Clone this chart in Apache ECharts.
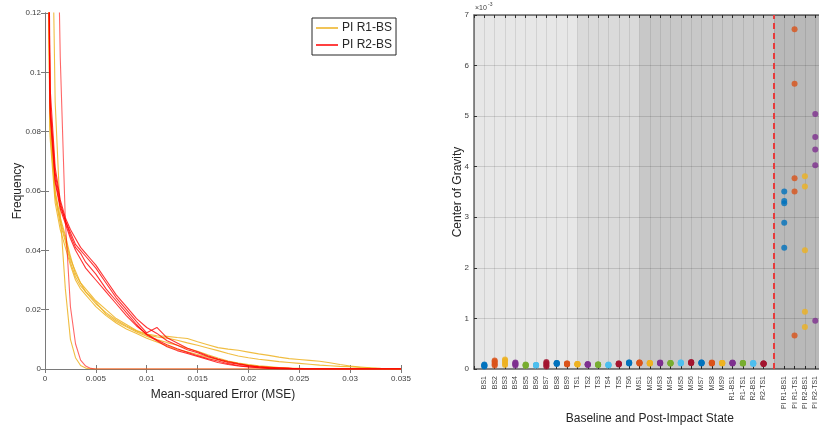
<!DOCTYPE html>
<html><head><meta charset="utf-8">
<script src="https://cdn.jsdelivr.net/npm/echarts@6/dist/echarts.min.js"></script>
<style>html,body{margin:0;padding:0;background:#fff}#c{width:819px;height:427px}</style>
</head><body><div id="c"></div>
<script>
// ---------- Left chart: MSE frequency curves ----------
const mseGrid = [0,0.0005,0.001,0.0015,0.002,0.0025,0.003,0.0035,0.004,0.0045,0.005,0.006,0.007,0.008,0.009,0.010,0.011,0.012,0.013,0.014,0.015,0.016,0.017,0.018,0.019,0.020,0.021,0.022,0.023,0.024,0.025,0.026,0.027,0.028,0.029,0.030,0.031,0.032,0.033,0.034,0.035];

// PI R1-BS (yellow)
const r1Curve0 = [0.30,0.20,0.09,0.052,0.027,0.010,0.0038,0.0012,0.0003,0,0,0,0,0,0,0,0,0,0,0,0,0,0,0,0,0,0,0,0,0,0,0,0,0,0,0,0,0,0,0,0];
const r1Curve1 = [0.26,0.085,0.060,0.051,0.045,0.038,0.032,0.029,0.027,0.025,0.023,0.020,0.017,0.015,0.013,0.0118,0.0112,0.0110,0.0106,0.0103,0.0092,0.0082,0.0072,0.0067,0.0063,0.0057,0.0051,0.0046,0.0040,0.0035,0.0032,0.0029,0.0026,0.0021,0.0015,0.0010,0.0007,0.0004,0.0002,0.0001,0];
const r1Curve2 = [0.24,0.080,0.058,0.049,0.043,0.036,0.031,0.028,0.026,0.024,0.022,0.019,0.0165,0.0145,0.0128,0.0115,0.0108,0.0104,0.0097,0.0088,0.0080,0.0071,0.0062,0.0052,0.0044,0.0038,0.0033,0.0029,0.0025,0.0022,0.0019,0.0016,0.0013,0.0011,0.0009,0.0008,0.0005,0.0003,0.0001,0,0];
const r1Curve3 = [0.22,0.078,0.056,0.047,0.041,0.035,0.030,0.027,0.025,0.023,0.021,0.018,0.0155,0.0135,0.012,0.0104,0.0091,0.0078,0.0066,0.0058,0.0049,0.0040,0.0031,0.0024,0.0018,0.0013,0.0009,0.0006,0.0004,0.0002,0,0,0,0,0,0,0,0,0,0,0];
const r1Curve4 = [0.25,0.082,0.059,0.050,0.044,0.037,0.033,0.029,0.026,0.0245,0.0225,0.0185,0.016,0.0142,0.0125,0.0110,0.0099,0.0089,0.0080,0.0070,0.0060,0.0048,0.0037,0.0027,0.0020,0.0015,0.0011,0.0008,0.0005,0.0003,0.0002,0.0001,0,0,0,0,0,0,0,0,0];

// PI R2-BS (red)
const r2Curve0 = [0.60,0.40,0.20,0.105,0.050,0.021,0.0085,0.003,0.001,0.0002,0,0,0,0,0,0,0,0,0,0,0,0,0,0,0,0,0,0,0,0,0,0,0,0,0,0,0,0,0,0,0];
const r2Curve1 = [0.30,0.095,0.068,0.057,0.051,0.047,0.044,0.041,0.039,0.037,0.035,0.030,0.025,0.021,0.017,0.014,0.012,0.0095,0.008,0.0065,0.0055,0.0042,0.0032,0.0022,0.0016,0.0011,0.0007,0.0004,0.0003,0.0002,0.0001,0,0,0,0,0,0,0,0,0,0];
const r2Curve2 = [0.28,0.090,0.066,0.056,0.050,0.046,0.042,0.040,0.038,0.036,0.034,0.029,0.024,0.020,0.016,0.0122,0.0140,0.0105,0.0088,0.0070,0.0058,0.0045,0.0034,0.0025,0.0018,0.0012,0.0008,0.0006,0.0004,0.0002,0,0,0,0,0,0,0,0,0,0,0];
const r2Curve3 = [0.26,0.086,0.063,0.054,0.049,0.044,0.040,0.037,0.034,0.032,0.030,0.026,0.022,0.018,0.0145,0.0118,0.0098,0.0082,0.0068,0.0056,0.0045,0.0035,0.0027,0.0018,0.0012,0.0008,0.0005,0.0003,0.0001,0,0,0,0,0,0,0,0,0,0,0,0];
const r2Curve4 = [0.27,0.088,0.064,0.055,0.050,0.045,0.041,0.039,0.036,0.034,0.032,0.027,0.023,0.019,0.015,0.0115,0.0095,0.0075,0.0062,0.0052,0.0042,0.0032,0.0022,0.0015,0.0010,0.0007,0.0004,0.0002,0.0001,0,0,0,0,0,0,0,0,0,0,0,0];

const r1Curves = [r1Curve0, r1Curve1, r1Curve2, r1Curve3, r1Curve4];
const r2Curves = [r2Curve0, r2Curve1, r2Curve2, r2Curve3, r2Curve4];

// ---------- Right chart: center of gravity (x 10^-3) ----------
const stateLabels = ['BS1','BS2','BS3','BS4','BS5','BS6','BS7','BS8','BS9','TS1','TS2','TS3','TS4','TS5','TS6','MS1','MS2','MS3','MS4','MS5','MS6','MS7','MS8','MS9','R1-BS1','R1-TS1','R2-BS1','R2-TS1','','PI R1-BS1','PI R1-TS1','PI R2-BS1','PI R2-TS1'];
const cogValues = [
  [0.05,0.06,0.07,0.08,0.09],
  [0.07,0.09,0.12,0.15,0.17],
  [0.08,0.10,0.14,0.17,0.19],
  [0.07,0.09,0.10,0.12,0.13],
  [0.06,0.07,0.08,0.08,0.09],
  [0.07,0.07,0.08,0.08,0.08],
  [0.05,0.07,0.10,0.12,0.14],
  [0.10,0.11,0.11,0.12,0.12],
  [0.09,0.10,0.10,0.11,0.11],
  [0.09,0.09,0.10,0.10,0.10],
  [0.08,0.09,0.09,0.09,0.10],
  [0.08,0.08,0.09,0.09,0.09],
  [0.07,0.08,0.08,0.08,0.09],
  [0.09,0.10,0.10,0.11,0.11],
  [0.11,0.12,0.12,0.13,0.13],
  [0.11,0.12,0.12,0.13,0.13],
  [0.11,0.11,0.12,0.12,0.12],
  [0.11,0.12,0.12,0.12,0.13],
  [0.11,0.11,0.12,0.12,0.12],
  [0.11,0.12,0.12,0.13,0.13],
  [0.12,0.12,0.13,0.13,0.14],
  [0.11,0.12,0.12,0.13,0.13],
  [0.11,0.12,0.12,0.12,0.13],
  [0.11,0.12,0.12,0.12,0.12],
  [0.11,0.12,0.12,0.12,0.13],
  [0.11,0.11,0.12,0.12,0.12],
  [0.10,0.11,0.11,0.12,0.12],
  [0.10,0.10,0.11,0.11,0.11],
  [],
  [3.51,3.32,3.28,2.89,2.40],
  [6.72,5.64,3.77,3.51,0.66],
  [3.81,3.61,2.35,1.13,0.83],
  [5.04,4.59,4.34,4.03,0.955]
];
const stateBands = [[0,10],[10,16],[16,29],[29,34]];
const impactLine = 29;

const matlabColors = ['#0072BD','#D95319','#EDB120','#7E2F8E','#77AC30','#4DBEEE','#A2142F'];
const bandColors = ['rgba(0,0,0,0.095)','rgba(0,0,0,0.145)','rgba(0,0,0,0.215)','rgba(0,0,0,0.275)'];

const axisCol = '#7a7a7a';
const txtCol = '#404040';

const series = [];
r1Curves.forEach(c => series.push({
  type:'line', name:'PI R1-BS', xAxisIndex:0, yAxisIndex:0, symbol:'none', silent:true,
  data: mseGrid.map((x,i)=>[x,c[i]]), color:'#EDB120',
  lineStyle:{width:1.1, color:'#EDB120', opacity:0.85}
}));
r2Curves.forEach((c,k) => series.push({
  type:'line', name:'PI R2-BS', xAxisIndex:0, yAxisIndex:0, symbol:'none', silent:true,
  data: mseGrid.map((x,i)=>[x,c[i]]), color:'#FF0000',
  lineStyle:{width:1.1, color:'#FF0000', opacity: k===0 ? 0.6 : 0.8}
}));

// shading + dashed impact line
series.push({
  type:'line', xAxisIndex:2, yAxisIndex:2, data:[], silent:true, z:1,
  markArea:{silent:true, data: stateBands.map((b,i)=>[{xAxis:b[0], yAxis:0, itemStyle:{color:bandColors[i]}},{xAxis:b[1], yAxis:7}])},
  markLine:{silent:true, symbol:'none', label:{show:false},
    lineStyle:{color:'#e83a3a', type:[6,4], width:2}, data:[{xAxis:impactLine}]}
});

let ci = 0;
stateLabels.forEach((lab,i) => {
  if (!lab) return;
  const col = matlabColors[ci % 7]; ci++;
  series.push({
    type:'scatter', xAxisIndex:2, yAxisIndex:2, symbolSize:6, silent:true, z:3,
    itemStyle:{color:col},
    data: cogValues[i].map(v=>[i+1, v])
  });
});

const option = {
  animation:false,
  backgroundColor:'#fff',
  textStyle:{fontFamily:'Liberation Sans, Arial, sans-serif'},
  grid:[
    {left:45, top:13, width:356, height:356, outerBoundsMode:'none'},
    {left:474, top:15, width:351.6, height:354, outerBoundsMode:'none'}
  ],
  legend:{
    left:312, top:18, orient:'vertical', data:['PI R1-BS','PI R2-BS'],
    icon:'rect', itemWidth:22, itemHeight:1.5, itemGap:5,
    padding:[4,4,4,4], borderColor:'#262626', borderWidth:1, backgroundColor:'#fff',
    textStyle:{fontSize:12, color:'#262626', padding:[0,0,0,-1]}
  },
  xAxis:[
    {gridIndex:0, type:'value', min:0, max:0.035, interval:0.005, position:'bottom',
     axisLine:{lineStyle:{color:axisCol}}, axisTick:{inside:true, length:4, lineStyle:{color:axisCol}},
     axisLabel:{fontSize:8, color:txtCol, margin:6, formatter:v=>String(+v.toFixed(3))},
     splitLine:{show:false},
     name:'Mean-squared Error (MSE)', nameLocation:'middle', nameGap:20, nameMoveOverlap:false,
     nameTextStyle:{fontSize:12, color:'#262626'}},
    {gridIndex:0, type:'value', min:0, max:0.035, interval:0.005, position:'top',
     axisLine:{lineStyle:{color:axisCol}}, axisTick:{inside:true, length:4, lineStyle:{color:axisCol}},
     axisLabel:{show:false}, splitLine:{show:false}},
    {gridIndex:1, type:'value', min:0, max:34, interval:1, position:'bottom',
     axisLine:{lineStyle:{color:'#6a6a6a', width:1.5}}, axisTick:{inside:true, length:3, lineStyle:{color:'#333'}},
     axisLabel:{fontSize:7, color:txtCol, rotate:90, margin:7, formatter:v=>stateLabels[v-1]||''},
     splitLine:{show:true, lineStyle:{color:'rgba(0,0,0,0.09)', width:1}},
     name:'Baseline and Post-Impact State', nameLocation:'middle', nameGap:44, nameMoveOverlap:false,
     nameTextStyle:{fontSize:12, color:'#262626'}},
    {gridIndex:1, type:'value', min:0, max:34, interval:1, position:'top',
     axisLine:{lineStyle:{color:'#6a6a6a', width:1.5}}, axisTick:{inside:true, length:3, lineStyle:{color:'#333'}},
     axisLabel:{show:false}, splitLine:{show:false}}
  ],
  yAxis:[
    {gridIndex:0, type:'value', min:0, max:0.12, interval:0.02, position:'left',
     axisLine:{show:true, lineStyle:{color:axisCol}}, axisTick:{show:true, inside:true, length:4, lineStyle:{color:axisCol}},
     axisLabel:{fontSize:8, color:txtCol, margin:4, formatter:v=>String(+v.toFixed(2))},
     splitLine:{show:false},
     name:'Frequency', nameLocation:'middle', nameGap:21, nameMoveOverlap:false,
     nameTextStyle:{fontSize:12, color:'#262626'}},
    {gridIndex:0, type:'value', min:0, max:0.12, interval:0.02, position:'right',
     axisLine:{show:true, lineStyle:{color:axisCol}}, axisTick:{show:true, inside:true, length:4, lineStyle:{color:axisCol}},
     axisLabel:{show:false}, splitLine:{show:false}},
    {gridIndex:1, type:'value', min:0, max:7, interval:1, position:'left',
     axisLine:{show:true, lineStyle:{color:'#6a6a6a', width:1.5}}, axisTick:{show:true, inside:true, length:3, lineStyle:{color:'#333'}},
     axisLabel:{fontSize:8, color:txtCol, margin:5},
     splitLine:{show:true, lineStyle:{color:'rgba(0,0,0,0.13)', width:1}},
     name:'Center of Gravity', nameLocation:'middle', nameGap:10, nameMoveOverlap:false,
     nameTextStyle:{fontSize:12, color:'#262626'}}
  ],
  graphic:[
    {type:'text', left:475, top:5, silent:true, style:{text:'×10', fontSize:7, fill:txtCol, fontFamily:'Liberation Sans, Arial'}},
    {type:'text', left:488, top:2, silent:true, style:{text:'-3', fontSize:5, fill:txtCol, fontFamily:'Liberation Sans, Arial'}}
  ],
  series: series
};
const chart = echarts.init(document.getElementById('c'), null, {renderer:'canvas'});
chart.setOption(option);
</script>
</body></html>
